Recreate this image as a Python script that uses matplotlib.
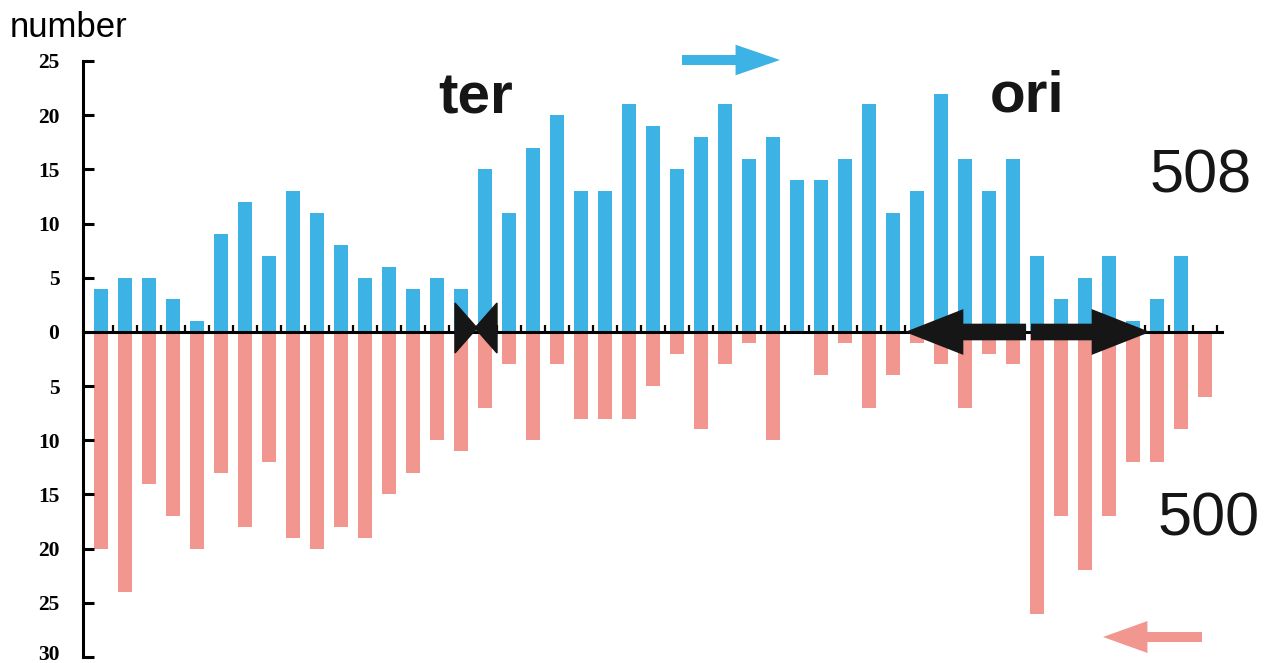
import matplotlib.pyplot as plt
import matplotlib.transforms as mtransforms
import numpy as np
from matplotlib.patches import Polygon

# counts per chromosomal bin
blue_counts = [4, 5, 5, 3, 1, 9, 12, 7, 13, 11, 8, 5, 6, 4, 5, 4, 15, 11, 17, 20,
               13, 13, 21, 19, 15, 18, 21, 16, 18, 14, 14, 16, 21, 11, 13, 22, 16, 13, 16, 7,
               3, 5, 7, 1, 3, 7, 0]
red_counts = [20, 24, 14, 17, 20, 13, 18, 12, 19, 20, 18, 19, 15, 13, 10, 11, 7, 3, 10, 3,
              8, 8, 8, 5, 2, 9, 3, 1, 10, 0, 4, 1, 7, 4, 1, 3, 7, 2, 3, 26,
              17, 22, 17, 12, 12, 9, 6]
ytick_values = [-30, -25, -20, -15, -10, -5, 0, 5, 10, 15, 20, 25]
blue_total = "508"
red_total = "500"

BLUE = '#3cb3e4'
PINK = '#f1978f'
INK = '#161616'
W, H = 1268, 663

fig = plt.figure(figsize=(W / 100, H / 100), dpi=100)
ax = fig.add_axes([83 / W, 1 - 657 / H, (1222 - 83) / W, (657 - 61) / H])

pos = np.arange(len(blue_counts))
ax.bar(pos, blue_counts, width=0.55, color=BLUE, zorder=1)
ax.bar(pos, [-v for v in red_counts], width=0.55, color=PINK, zorder=1)

ax.set_xlim(-0.75, 46.71)
ax.set_ylim(-30, 25)

ax.spines['top'].set_visible(False)
ax.spines['right'].set_visible(False)
ax.spines['bottom'].set_position(('data', 0))
ax.spines['left'].set_linewidth(2.2)
ax.spines['bottom'].set_linewidth(2.2)
ax.spines['left'].set_zorder(3)
ax.spines['bottom'].set_zorder(3)

ax.set_yticks(ytick_values)
ax.set_yticklabels([str(abs(v)) for v in ytick_values], family='Liberation Serif',
                   fontweight='bold', fontsize=15.5)
ax.tick_params(axis='y', direction='in', length=8, width=2.2, pad=17)
# the bottom label sits right at the page edge; lift it a little so it stays whole
bottom_lbl = ax.get_yticklabels()[0]
bottom_lbl.set_transform(bottom_lbl.get_transform() +
                         mtransforms.ScaledTranslation(0, 4 / 100, fig.dpi_scale_trans))
ax.set_xticks(pos + 0.5)
ax.set_xticklabels([])
ax.tick_params(axis='x', direction='in', length=5, width=1.6)


def fpx(x, y):
    return x / W, 1 - y / H


fig.text(*fpx(10, 37), 'number', fontsize=25, family='Liberation Sans', va='baseline')
fig.text(*fpx(476, 113), 'ter', fontsize=42, family='Liberation Sans', fontweight='bold',
         color=INK, ha='center', va='baseline')
fig.text(*fpx(1027, 112), 'ori', fontsize=42, family='Liberation Sans', fontweight='bold',
         color=INK, ha='center', va='baseline')
fig.text(*fpx(1252, 192), blue_total, fontsize=44, family='Liberation Sans', color=INK,
         ha='right', va='baseline')
fig.text(*fpx(1260, 535), red_total, fontsize=44, family='Liberation Sans', color=INK,
         ha='right', va='baseline')

# terminus marker (bow tie)
for tri in ([(455, 303), (455, 353), (477, 328)], [(497, 303), (497, 353), (475, 328)]):
    fig.patches.append(Polygon([fpx(x, y) for x, y in tri], closed=True, color=INK,
                               transform=fig.transFigure, zorder=5))


def arrow(x0, x1, y, color, hl, hw, tw):
    ax.annotate('', xy=(x1, H - y), xytext=(x0, H - y), xycoords='figure pixels',
                textcoords='figure pixels', annotation_clip=False,
                arrowprops=dict(arrowstyle=f'simple,head_length={hl},head_width={hw},tail_width={tw}',
                                mutation_scale=20, color=color, shrinkA=0, shrinkB=0, lw=0),
                zorder=6)


arrow(682, 780, 60, BLUE, 1.6, 1.1, 0.36)
arrow(1202, 1103, 637, PINK, 1.6, 1.15, 0.36)
arrow(1026, 905, 332, INK, 2.1, 1.65, 0.6)
arrow(1031, 1150, 332, INK, 2.1, 1.65, 0.6)

plt.savefig('out.png', dpi=100)
plt.close()
